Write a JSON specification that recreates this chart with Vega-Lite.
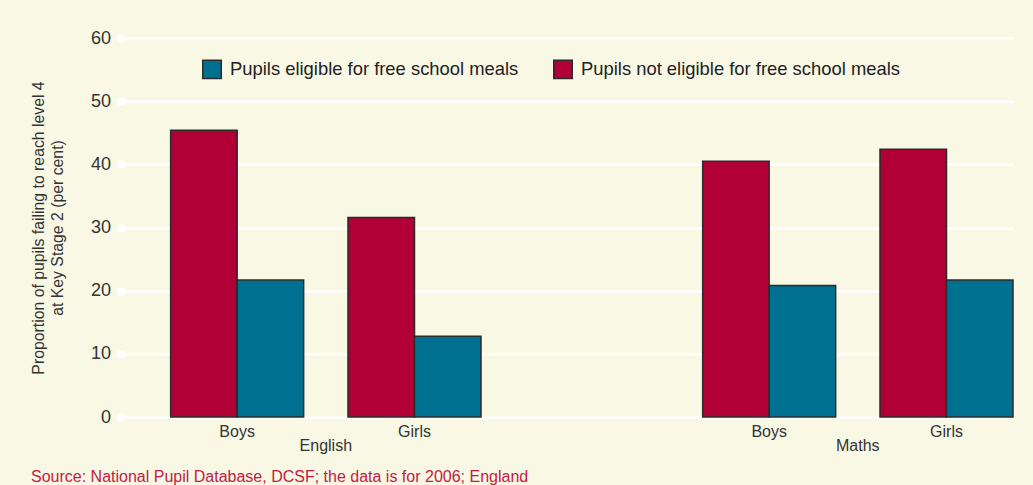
{
  "$schema": "https://vega.github.io/schema/vega-lite/v6.json",
  "autosize": {"type": "none"},
  "width": 892,
  "height": 379,
  "padding": {"left": 121, "top": 38, "right": 20, "bottom": 68},
  "background": "#f8f8e5",
  "title": {
    "text": "Source: National Pupil Database, DCSF; the data is for 2006; England",
    "orient": "bottom",
    "anchor": "start",
    "frame": "group",
    "dx": -90,
    "offset": 15,
    "font": "Liberation Sans",
    "fontSize": 16,
    "fontWeight": "normal",
    "color": "#c41a44"
  },
  "config": {
    "view": {"stroke": null},
    "font": "Liberation Sans",
    "axis": {"labelFont": "Liberation Sans", "titleFont": "Liberation Sans"}
  },
  "layer": [
    {
      "data": {
        "values": [
          {"slot": "English Boys", "meals": "Pupils not eligible for free school meals", "value": 45.4},
          {"slot": "English Boys", "meals": "Pupils eligible for free school meals", "value": 21.7},
          {"slot": "English Girls", "meals": "Pupils not eligible for free school meals", "value": 31.6},
          {"slot": "English Girls", "meals": "Pupils eligible for free school meals", "value": 12.8},
          {"slot": "Maths Boys", "meals": "Pupils not eligible for free school meals", "value": 40.5},
          {"slot": "Maths Boys", "meals": "Pupils eligible for free school meals", "value": 20.8},
          {"slot": "Maths Girls", "meals": "Pupils not eligible for free school meals", "value": 42.4},
          {"slot": "Maths Girls", "meals": "Pupils eligible for free school meals", "value": 21.7}
        ]
      },
      "mark": {"type": "bar", "stroke": "#2b2b2b", "strokeWidth": 1.5},
      "encoding": {
        "x": {
          "field": "slot",
          "type": "nominal",
          "scale": {
            "domain": ["English Boys", "English Girls", "gap", "Maths Boys", "Maths Girls"],
            "paddingInner": 0.25,
            "paddingOuter": 0.14,
            "align": 1
          },
          "axis": {
            "title": null,
            "labelAngle": 0,
            "labelExpr": "datum.value == 'gap' ? '' : split(datum.value, ' ')[1]",
            "labelFontSize": 16,
            "labelColor": "#333333",
            "labelPadding": 6,
            "ticks": false,
            "domain": false,
            "grid": false
          }
        },
        "xOffset": {
          "field": "meals",
          "type": "nominal",
          "scale": {"domain": ["Pupils not eligible for free school meals", "Pupils eligible for free school meals"]}
        },
        "y": {
          "field": "value",
          "type": "quantitative",
          "scale": {"domain": [0, 60], "nice": false},
          "axis": {
            "title": ["Proportion of pupils failing to reach level 4", "at Key Stage 2 (per cent)"],
            "titleFontSize": 15.8,
            "titleFontWeight": "normal",
            "titleColor": "#333333",
            "titleLineHeight": 19,
            "titleAngle": -90,
            "titleBaseline": "alphabetic",
            "titleAlign": "center",
            "titleX": -78,
            "titleY": 189.5,
            "values": [0, 10, 20, 30, 40, 50, 60],
            "labelFontSize": 18,
            "labelColor": "#333333",
            "labelPadding": 10,
            "tickSize": 0.5,
            "tickWidth": 8,
            "tickCap": "round",
            "tickColor": "#ffffff",
            "domain": false,
            "grid": true,
            "gridColor": "#ffffff",
            "gridWidth": 2.5,
            "gridOpacity": 1
          }
        },
        "color": {
          "field": "meals",
          "type": "nominal",
          "scale": {
            "domain": ["Pupils eligible for free school meals", "Pupils not eligible for free school meals"],
            "range": ["#007090", "#b00035"]
          },
          "legend": {
            "title": null,
            "orient": "none",
            "direction": "horizontal",
            "legendX": 81,
            "legendY": 21,
            "padding": 0,
            "symbolType": "square",
            "symbolSize": 342,
            "symbolStrokeColor": "#2b2b2b",
            "symbolStrokeWidth": 1.5,
            "symbolOpacity": 1,
            "labelFontSize": 18.4,
            "labelColor": "#222222",
            "labelLimit": 0,
            "labelOffset": 8,
            "columnPadding": 31
          }
        }
      }
    },
    {
      "data": {
        "values": [
          {"slot": "English Boys", "subject": "English"},
          {"slot": "Maths Boys", "subject": "Maths"}
        ]
      },
      "mark": {"type": "text", "fontSize": 16, "color": "#333333", "baseline": "middle", "align": "center", "dy": 29},
      "encoding": {
        "x": {"field": "slot", "type": "nominal", "bandPosition": 1.1665},
        "y": {"datum": 0, "type": "quantitative"},
        "text": {"field": "subject"}
      }
    }
  ]
}
